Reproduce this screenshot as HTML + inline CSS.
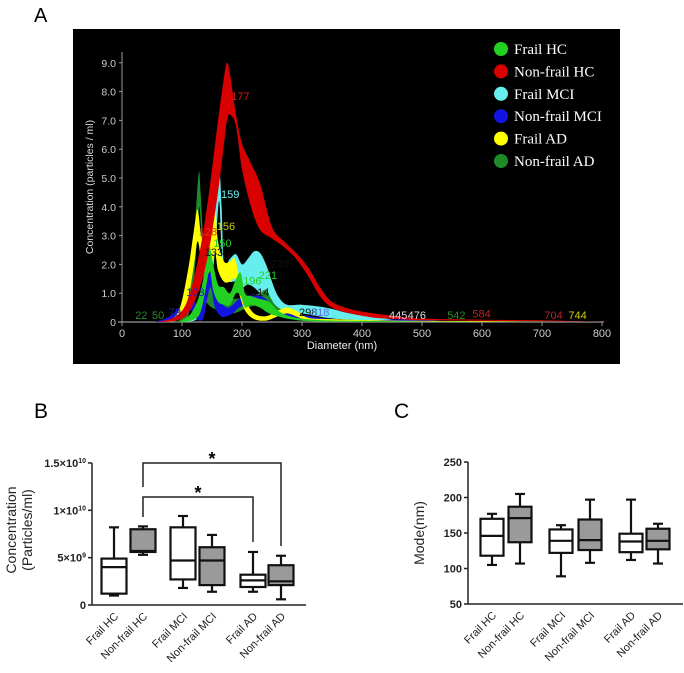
<!DOCTYPE html>
<html><head><meta charset="utf-8"><style>
body{margin:0;background:#fff;}
svg{display:block;}
</style></head><body>
<svg id="fig" width="684" height="673" viewBox="0 0 684 673" xmlns="http://www.w3.org/2000/svg" font-family="Liberation Sans, sans-serif">
<text x="34" y="22" font-size="20">A</text>
<rect x="73" y="29" width="547" height="335" fill="#000"/>
<g id="pa"></g>
<text x="34" y="418" font-size="21">B</text>
<g id="pb"></g>
<text x="394" y="418" font-size="21">C</text>
<g id="pc"></g>
</svg>
<script>
// ---------- Panel A data ----------
const seriesNames = ["Non-frail HC","Frail MCI","Non-frail AD","Frail AD","Frail HC","Non-frail MCI"];
const redD  = [60,90,110,130,145,160,170,175,180,190,200,215,230,250,270,290,310,330,350,380,420,460,500,600,700,800];
const redHi = [0,0.2,0.8,2.5,4.5,7.0,8.5,9.0,8.6,7.2,6.2,5.5,4.8,3.3,2.8,2.4,1.9,1.2,0.7,0.45,0.3,0.2,0.12,0.08,0.06,0];
const redLo = [0,0.05,0.3,1.2,2.5,4.5,6.2,7.0,7.2,6.8,5.3,4.0,3.2,2.9,2.6,2.2,1.6,0.9,0.5,0.3,0.15,0.1,0.06,0.04,0.03,0];
const cyanD  = [105,125,140,150,157,162,166,170,180,190,200,210,220,230,240,250,260,275,300,340,380,430,480];
const cyanHi = [0,0.5,1.5,3.0,4.5,5.4,4.0,2.0,2.2,2.35,2.0,2.2,2.45,2.4,2.0,1.4,0.9,0.6,0.6,0.5,0.3,0.15,0];
const cyanLo = [0,0.1,0.6,1.5,3.0,4.2,2.5,1.6,1.4,1.4,1.2,1.3,1.2,1.0,0.8,0.6,0.4,0.3,0.3,0.15,0.08,0.04,0];
const dgD  = [90,105,115,122,128,131,135,140,150,165,185,210,230,240,255,275,300,350,450];
const dgHi = [0,0.3,1.5,3.5,5.2,4.5,3.0,1.8,1.2,1.0,0.8,0.9,1.0,1.1,0.6,0.35,0.2,0.08,0];
const dgLo = [0,0.05,0.6,2.0,3.9,3.5,1.8,0.8,0.5,0.4,0.3,0.5,0.6,0.5,0.3,0.15,0.05,0.02,0];
const yeD  = [75,95,110,120,126,132,140,148,155,160,170,180,188,195,205,220,240,260,275,290,310,350,450,600,800];
const yeHi = [0,0.4,1.8,3.2,3.9,3.0,2.6,3.5,4.0,2.8,2.1,2.1,2.2,1.6,0.8,0.3,0.2,0.4,0.5,0.4,0.15,0.1,0.05,0.03,0];
const yeLo = [0,0.1,0.8,2.0,2.8,2.2,1.6,1.9,2.4,1.8,1.4,1.4,1.5,1.0,0.4,0.1,0.05,0.2,0.3,0.2,0.05,0.03,0.02,0.01,0];
const grD  = [95,115,130,140,146,152,160,170,180,190,198,205,215,230,245,260,280,320,400,600];
const grHi = [0,0.3,1.0,2.0,2.6,2.0,1.3,1.2,1.0,1.5,1.7,1.0,0.9,0.8,0.7,0.4,0.2,0.08,0.04,0];
const grLo = [0,0.05,0.3,1.2,1.8,1.1,0.7,0.6,0.6,1.0,0.9,0.5,0.6,0.5,0.3,0.2,0.1,0.02,0.01,0];
const blD  = [55,80,100,115,125,135,142,148,155,165,175,185,195,210,225,240,260,300,340,400,480,550];
const blHi = [0,0.2,0.6,0.9,0.6,0.8,1.6,1.9,1.2,0.7,0.5,0.6,0.8,0.9,0.95,0.8,0.4,0.25,0.12,0.05,0.1,0];
const blLo = [0,0.05,0.2,0.4,0.1,0.1,0.8,1.2,0.5,0.2,0.2,0.3,0.5,0.6,0.6,0.4,0.2,0.1,0.03,0.02,0.03,0];
const aXTicks = [0,100,200,300,400,500,600,700,800];
const aYTicks = [0,1,2,3,4,5,6,7,8,9];
const legendNames = ["Frail HC","Non-frail HC","Frail MCI","Non-frail MCI","Frail AD","Non-frail AD"];
const peakLabels = ["22","50","79","103","128","133","150","156","159","177","196","214","221","239","298","318","445","476","542","584","704","744"];
const peakD      = [22,50,78,107,128,138,152,158,165,182,202,215,228,248,295,315,445,476,542,584,704,744];
const peakY      = [0.1,0.1,0.2,0.9,3.0,2.3,2.6,3.2,4.3,7.7,1.3,0.9,1.5,1.9,0.2,0.2,0.1,0.1,0.1,0.15,0.1,0.1];

// ---------- Panel B / C data ----------
const groups = ["Frail HC","Non-frail HC","Frail MCI","Non-frail MCI","Frail AD","Non-frail AD"];
const concMin = [1.0,5.3,1.8,1.4,1.4,0.6];
const concQ1  = [1.2,5.6,2.7,2.1,1.9,2.1];
const concMed = [4.0,5.7,4.7,4.7,2.6,2.5];
const concQ3  = [4.9,8.0,8.2,6.1,3.2,4.2];
const concMax = [8.2,8.3,9.4,7.4,5.6,5.2];
const modeMin = [105,107,89,108,112,107];
const modeQ1  = [118,137,122,126,123,127];
const modeMed = [146,171,139,140,138,139];
const modeQ3  = [170,187,155,169,149,156];
const modeMax = [177,205,161,197,197,163];
const modeTicks = [50,100,150,200,250];

const NS="http://www.w3.org/2000/svg";
function mk(parent,tag,attrs,text){const e=document.createElementNS(NS,tag);for(const k in attrs)e.setAttribute(k,attrs[k]);if(text!==undefined)e.textContent=text;parent.appendChild(e);return e;}

// ---------- Panel A ----------
const pa=document.getElementById('pa');
const ax=d=>122+d*0.6;
const ay=v=>322-v*28.8;
function smooth(pts){let s="";for(let i=0;i<pts.length;i++){const p=pts[i];if(i===0){s+="M"+p[0]+","+p[1];continue;}
const p0=pts[i-2]||pts[i-1],p1=pts[i-1],p3=pts[i+1]||p;
const c1=[p1[0]+(p[0]-p0[0])/6,p1[1]+(p[1]-p0[1])/6],c2=[p[0]-(p3[0]-p1[0])/6,p[1]-(p3[1]-p1[1])/6];
s+="C"+c1[0].toFixed(1)+","+Math.min(c1[1],322).toFixed(1)+" "+c2[0].toFixed(1)+","+Math.min(c2[1],322).toFixed(1)+" "+p[0].toFixed(1)+","+p[1].toFixed(1);}return s;}
function band(D,Hi,Lo,color,name){
  const up=D.map((d,i)=>[ax(d),ay(Hi[i])]);
  const lo=D.map((d,i)=>[ax(d),ay(Lo[i])]).reverse();
  const p=smooth(up)+"L"+smooth(lo).slice(1)+"Z";
  const e=mk(pa,'path',{d:p,fill:color});
  
  
}
// axes
const yl=mk(pa,'line',{x1:122,y1:52,x2:122,y2:323,stroke:'#999','stroke-width':1});

const xl=mk(pa,'line',{x1:118,y1:322,x2:604,y2:322,stroke:'#999','stroke-width':1.2});

aXTicks.forEach(t=>{mk(pa,'line',{x1:ax(t),y1:322,x2:ax(t),y2:326,stroke:'#999'});
 const e=mk(pa,'text',{x:ax(t),y:337,'font-size':11,fill:'#ccc','text-anchor':'middle'},String(t));
 });
aYTicks.forEach(t=>{mk(pa,'line',{x1:119,y1:ay(t),x2:122,y2:ay(t),stroke:'#999'});
 const e=mk(pa,'text',{x:116,y:ay(t)+4,'font-size':10.5,fill:'#ccc','text-anchor':'end'},t===0?"0":t.toFixed(1));
 });
let e=mk(pa,'text',{x:342,y:349,'font-size':11,fill:'#eee','text-anchor':'middle'},"Diameter (nm)");

e=mk(pa,'text',{x:0,y:0,'font-size':10.5,fill:'#ddd','text-anchor':'middle',transform:'translate(93,187) rotate(-90)'},"Concentration (particles / ml)");

band(cyanD,cyanHi,cyanLo,'#66eeee','frail-mci');
band(dgD,dgHi,dgLo,'#1e8a2a','non-frail-ad');
band(blD,blHi,blLo,'#1414e0','non-frail-mci');
band(yeD,yeHi,yeLo,'#ffff00','frail-ad');
band(grD,grHi,grLo,'#22d022','frail-hc');
band(redD,redHi,redLo,'#d80000','non-frail-hc');
const peakColors=['#2a8a2a','#2a8a2a','#2020c0','#2020c0','#e03020','#111','#22d022','#cccc00','#66eeee','#c02020','#22d022','#111','#22d022','#111','#111','#6666ee','#ddd','#ddd','#2a8a2a','#c02020','#c02020','#cccc00'];
peakLabels.forEach((t,i)=>{const l=mk(pa,'text',{x:ax(peakD[i]),y:ay(peakY[i]),'font-size':11,fill:peakColors[i]},t);
 });
const legColors=['#22d022','#d80000','#66eeee','#1414e0','#ffff00','#1e8a2a'];
legendNames.forEach((n,i)=>{const y=49+i*22.4;
 const c=mk(pa,'circle',{cx:501,cy:y,r:7,fill:legColors[i]});
 
 const t=mk(pa,'text',{x:514,y:y+5,'font-size':15,fill:'#fff','font-family':'Liberation Serif, serif'},n);
 });

// ---------- Box plots ----------
function boxPanel(g,cxs,yf,mins,q1,med,q3,maxs,w,axisX,axisEnd,baseY,topY,ticks,tickLabels,titleLines,titleX,titleY,prefix){
  let a=mk(g,'line',{x1:axisX,y1:topY,x2:axisX,y2:baseY,stroke:'#222','stroke-width':1.5});
  
  a=mk(g,'line',{x1:axisX,y1:baseY,x2:axisEnd,y2:baseY,stroke:'#222','stroke-width':1.5});
  
  ticks.forEach((t,i)=>{mk(g,'line',{x1:axisX-4,y1:yf(t),x2:axisX,y2:yf(t),stroke:'#222','stroke-width':1.5});
   const l=mk(g,'text',{x:axisX-6,y:yf(t)+4,'font-size':11,'font-weight':'bold','text-anchor':'end',fill:'#222'});
   l.innerHTML=tickLabels[i];
   });
  titleLines.forEach((tl,i)=>{const t=mk(g,'text',{x:0,y:0,'font-size':14,'text-anchor':'middle',fill:'#222',transform:`translate(${titleX+i*16},${titleY}) rotate(-90)`},tl);
   });
  groups.forEach((n,i)=>{const cx=cxs[i],fill=i%2?'#9a9a9a':'#fff';
   const s={stroke:'#111','stroke-width':2.2};
   mk(g,'line',Object.assign({x1:cx,y1:yf(maxs[i]),x2:cx,y2:yf(q3[i])},s));
   mk(g,'line',Object.assign({x1:cx,y1:yf(mins[i]),x2:cx,y2:yf(q1[i])},s));
   mk(g,'line',Object.assign({x1:cx-5,y1:yf(maxs[i]),x2:cx+5,y2:yf(maxs[i])},s));
   mk(g,'line',Object.assign({x1:cx-5,y1:yf(mins[i]),x2:cx+5,y2:yf(mins[i])},s));
   const r=mk(g,'rect',Object.assign({x:cx-w/2,y:yf(q3[i]),width:w,height:yf(q1[i])-yf(q3[i]),fill:fill},s));
   
   
   mk(g,'line',Object.assign({x1:cx-w/2,y1:yf(med[i]),x2:cx+w/2,y2:yf(med[i])},s));
   const t=mk(g,'text',{x:0,y:0,'font-size':11,'text-anchor':'end',fill:'#222',transform:`translate(${cx+5},${baseY+12}) rotate(-45)`},n);
   });
}
const pb=document.getElementById('pb');
const by=v=>605-v*9.47;
boxPanel(pb,[114,143,183,212,253,281],by,concMin,concQ1,concMed,concQ3,concMax,25,92,306,605,463,[0,5,10,15],
 ['0','5×10<tspan font-size="7" dy="-4">9</tspan>','1×10<tspan font-size="7" dy="-4">10</tspan>','1.5×10<tspan font-size="7" dy="-4">10</tspan>'],
 ['Concentration','(Particles/ml)'],16,530,'b');
// significance brackets
[[143,281,463,487,546,212,459],[143,253,497,517,542,198,493]].forEach(b=>{
 const p=mk(pb,'path',{d:`M${b[0]},${b[3]}V${b[2]}H${b[1]}V${b[4]}`,fill:'none',stroke:'#222','stroke-width':1.5});
 
 const s=mk(pb,'text',{x:b[5],y:b[6]+6,'font-size':18,'font-weight':'bold','text-anchor':'middle'},'*');
 });
const pc=document.getElementById('pc');
const cy=v=>604-(v-50)*0.71;
boxPanel(pc,[492,520,561,590,631,658],cy,modeMin,modeQ1,modeMed,modeQ3,modeMax,23,468,683,604,462,modeTicks,modeTicks.map(String),['Mode(nm)'],424,533,'c');
</script>
</body></html>
